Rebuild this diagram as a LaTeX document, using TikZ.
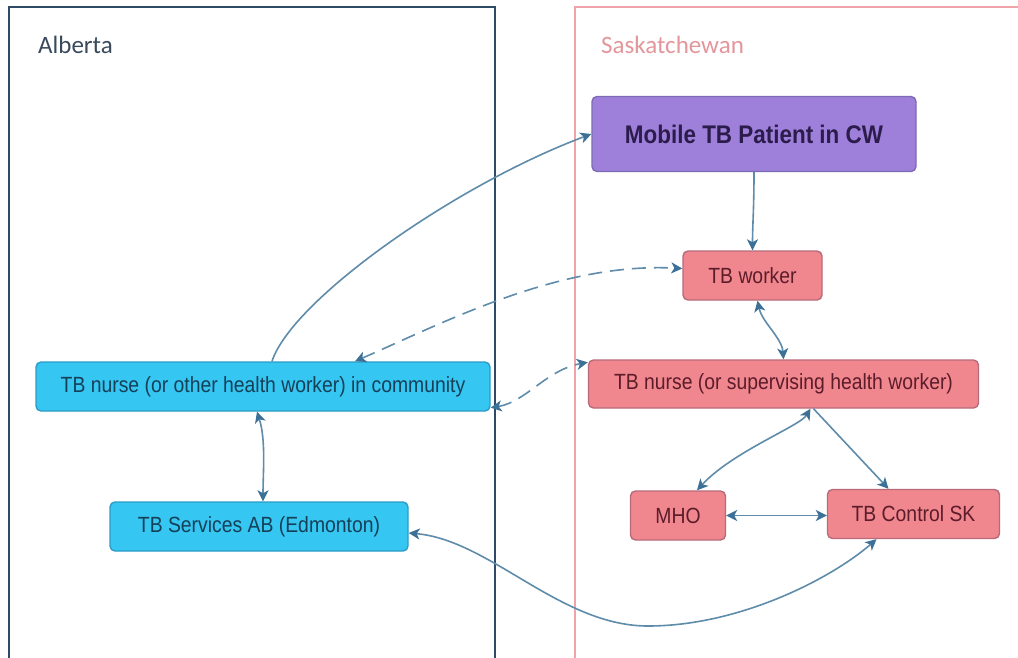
\documentclass[tikz,border=0pt]{standalone}
\usepackage{fontspec}
\usetikzlibrary{arrows.meta}
\newfontfamily\boxfont{Liberation Sans}[FakeStretch=0.88]
\newfontfamily\headfont{Carlito}
\definecolor{abline}{HTML}{2E4A66}
\definecolor{skline}{HTML}{F0A4AA}
\definecolor{abhead}{HTML}{3A4A5C}
\definecolor{skhead}{HTML}{E3979C}
\definecolor{bluefill}{HTML}{35C6F2}
\definecolor{blueedge}{HTML}{2C9CC6}
\definecolor{bluetext}{HTML}{163F58}
\definecolor{pinkfill}{HTML}{F0878F}
\definecolor{pinkedge}{HTML}{B86A7A}
\definecolor{pinktext}{HTML}{5C1C2A}
\definecolor{purplefill}{HTML}{9E80DA}
\definecolor{purpleedge}{HTML}{7D6BB6}
\definecolor{purpletext}{HTML}{2C1C4C}
\definecolor{linkcol}{HTML}{5E8CAA}
\definecolor{tipcol}{HTML}{3C7096}
\tikzset{
  boxbase/.style={rounded corners=5pt, line width=1.4pt, inner sep=0pt,
    font=\boxfont\fontsize{22pt}{24pt}\selectfont},
  abbox/.style={boxbase, fill=bluefill, draw=blueedge, text=bluetext},
  skbox/.style={boxbase, fill=pinkfill, draw=pinkedge, text=pinktext},
  patbox/.style={boxbase, fill=purplefill, draw=purpleedge, text=purpletext,
    font=\boxfont\bfseries\fontsize{25.5pt}{28pt}\selectfont},
  tip/.tip={Stealth[length=11pt,width=11pt,inset=3pt,color=tipcol,fill=tipcol]},
  link/.style={draw=linkcol, line width=1.6pt},
  dlink/.style={link, dash pattern=on 14pt off 8pt},
  head/.style={font=\headfont\fontsize{25pt}{28pt}\selectfont, anchor=base west, inner sep=0pt}
}
\begin{document}
\begin{tikzpicture}[x=1pt,y=-1pt]
\useasboundingbox[fill=white] (0,0) rectangle (1018,657);

% province panels (they run past the lower and right edges)
\draw[abline, line width=1.5pt] (9,660) -- (9,7) -- (495,7) -- (495,660);
\draw[skline, line width=1.2pt] (575,660) -- (575,7) -- (1025,7);
\node[head, text=abhead] (ablabel) at (38,53) {Alberta};
\node[head, text=skhead] (sklabel) at (601,53) {Saskatchewan};

% Saskatchewan side
\node[patbox, minimum width=324pt, minimum height=75pt] (patient) at (754,134) {Mobile TB Patient in CW};
\node[skbox, minimum width=139pt, minimum height=49pt] (worker) at (752.5,275.5) {TB worker};
\node[skbox, minimum width=390pt, minimum height=48pt] (nursesk) at (783.5,384) {TB nurse (or supervising health worker)};
\node[skbox, minimum width=95pt, minimum height=49pt] (mho) at (678,515.5) {MHO};
\node[skbox, minimum width=172pt, minimum height=49pt] (control) at (913.5,514) {TB Control SK};

% Alberta side
\node[abbox, minimum width=454pt, minimum height=49pt] (nurseab) at (263,386.5) {TB nurse (or other health worker) in community};
\node[abbox, minimum width=298pt, minimum height=49pt] (services) at (259,526.5) {TB Services AB (Edmonton)};

% solid connectors
\draw[link, -tip] ([xshift=9pt]nurseab.north) .. controls (292,300) and (455,185) .. (patient.west);
\draw[link, -tip] (patient.south) .. controls (754,210) and (752.5,225) .. (worker.north);
\draw[link, tip-tip] ([xshift=5pt]worker.south) .. controls (762,322) and (782,338) .. (nursesk.north);
\draw[link, tip-tip] ([xshift=27pt]nursesk.south) .. controls (800,426) and (732,452) .. ([xshift=19pt]mho.north);
\draw[link, -tip] ([xshift=30pt]nursesk.south) -- ([xshift=-25pt]control.north);
\draw[link, tip-tip] (mho.east) -- (control.west |- mho.east);
\draw[link, tip-tip] ([yshift=-6.5pt]services.east) .. controls (490,540) and (560,626) .. (648,626)
  .. controls (740,626) and (832,578) .. ([xshift=-37pt]control.south);
\draw[link, tip-tip] ([xshift=-6pt]nurseab.south) .. controls (266,440) and (263,472) .. ([xshift=4pt]services.north);

% dashed connectors across the border
\draw[dlink, tip-tip] ([xshift=92pt]nurseab.north) .. controls (445,322) and (560,262) .. ([yshift=7pt]worker.west);
\draw[dlink, tip-tip] ([yshift=4pt]nurseab.south east) .. controls (526,402) and (546,370) .. ([yshift=-3pt]nursesk.north west);
\end{tikzpicture}
\end{document}
